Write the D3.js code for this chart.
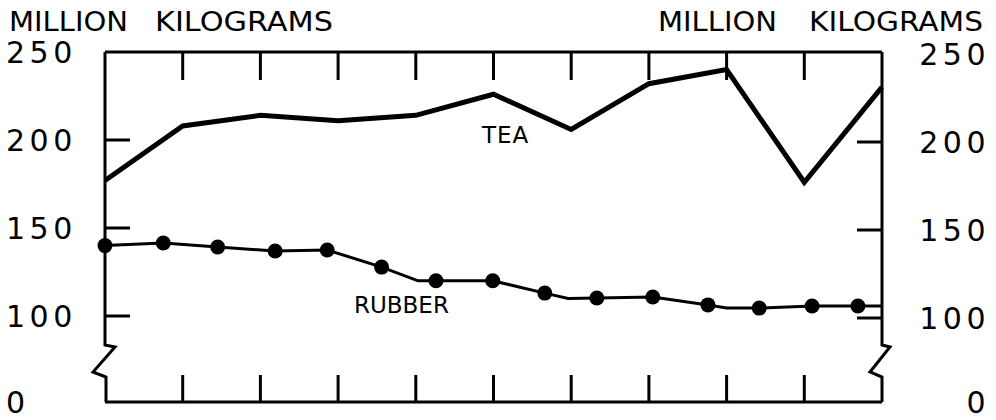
<!DOCTYPE html>
<html>
<head>
<meta charset="utf-8">
<script src="https://cdn.jsdelivr.net/npm/d3@7"></script>
<style>
  body { margin: 0; background: #fff; }
  text { font-family: "DejaVu Sans", sans-serif; fill: #000; }
</style>
</head>
<body>
<div id="chart"></div>
<script>
let height = 420,
    width = 996,
    margin = ({ top: 52, right: 114, bottom: 18, left: 105 });

// x in years from start (ticks every year), y in million kilograms
const years = [0, 1, 2, 3, 4, 5, 6, 7, 8, 9, 10];
const teaValues = [177, 208, 214, 211, 214, 226, 206, 232, 240, 176, 230];

const rubberX = [0, 0.75, 1.45, 2.19, 2.86, 3.56, 4.03, 4.26, 4.99, 5.66, 5.96, 6.33, 7.05, 7.76, 8.0, 8.42, 9.1, 9.69, 10];
const rubberV = [140, 141.5, 139.2, 136.9, 137.5, 127.8, 120, 120, 120, 113, 110, 110.2, 110.8, 106.3, 104.5, 104.5, 105.7, 105.7, 105.7];
const dotX = [0, 0.75, 1.45, 2.19, 2.86, 3.56, 4.26, 4.99, 5.66, 6.33, 7.05, 7.76, 8.42, 9.1, 9.69];
const dotV = [140, 141.5, 139.2, 136.9, 137.5, 127.8, 120, 120, 113, 110.2, 110.8, 106.3, 104.5, 105.7, 105.7];

const yTicks = [0, 100, 150, 200, 250];
const innerYTicks = [100, 150, 200];

const svg = d3.select("#chart")
    .append("svg")
    .attr("width", width)
    .attr("height", height);

let x = d3.scaleLinear()
    .domain([0, 10])
    .range([margin.left, width - margin.right]);

// broken scale: 0 sits at the bottom, 100..250 is linear above the break
let y = d3.scaleLinear()
    .domain([0, 100, 250])
    .range([height - margin.bottom, 316, margin.top]);

const x0 = x(0), x1 = x(10), yTop = y(250), yBot = y(0);
const b1 = y(100) + 29, b2 = y(100) + 56, b3 = y(100) + 61;

// frame with axis breaks
const frame = svg.append("g")
    .attr("fill", "none")
    .attr("stroke", "black")
    .attr("stroke-width", 3)
    .attr("stroke-linejoin", "miter");

frame.append("path")
    .attr("d", `M${x0},${yTop}H${x1}`);
frame.append("path")
    .attr("d", `M${x0},${yBot}H${x1}`);
frame.append("path")
    .attr("d", `M${x0},${yTop}V${b1}L${x0 + 10},${b1 + 2}L${x0 - 12},${b2}L${x0 + 1},${b3}V${yBot}`);
frame.append("path")
    .attr("d", `M${x1},${yTop}V${b1}L${x1 + 8},${b1 + 2}L${x1 - 12},${b2}L${x1},${b3}V${yBot}`);

// ticks
const inner = years.slice(1, -1);
frame.selectAll(".xt-top")
  .data(inner)
  .join("line")
    .attr("x1", d => x(d)).attr("x2", d => x(d))
    .attr("y1", yTop).attr("y2", yTop + 28);
frame.selectAll(".xt-bot")
  .data(inner)
  .join("line")
    .attr("x1", d => x(d)).attr("x2", d => x(d))
    .attr("y1", yBot).attr("y2", yBot - 27);
frame.selectAll(".yt-left")
  .data(innerYTicks)
  .join("line")
    .attr("x1", x0).attr("x2", x0 + 25)
    .attr("y1", d => y(d)).attr("y2", d => y(d));
frame.selectAll(".yt-right")
  .data(innerYTicks)
  .join("line")
    .attr("x1", x1).attr("x2", x1 - 25)
    .attr("y1", d => y(d) + 2).attr("y2", d => y(d) + 2);

// tick labels
svg.append("g")
    .attr("font-size", 30)
    .attr("letter-spacing", 4.5)
  .selectAll("text")
  .data(yTicks)
  .join("text")
    .attr("x", 6)
    .attr("y", d => d === 0 ? 413 : y(d) + 11)
    .text(d => d);

svg.append("g")
    .attr("font-size", 30)
    .attr("letter-spacing", 4.5)
    .attr("text-anchor", "end")
  .selectAll("text")
  .data(yTicks)
  .join("text")
    .attr("x", 990)
    .attr("y", d => d === 0 ? 413 : y(d) + 13)
    .text(d => d);

// unit titles
const titles = [
  { t: "MILLION", x: 9, len: 119 },
  { t: "KILOGRAMS", x: 155, len: 178 },
  { t: "MILLION", x: 658, len: 119 },
  { t: "KILOGRAMS", x: 809, len: 174 }
];
svg.append("g")
    .attr("font-size", 27)
  .selectAll("text")
  .data(titles)
  .join("text")
    .attr("x", d => d.x)
    .attr("y", 31)
    .attr("textLength", d => d.len)
    .attr("lengthAdjust", "spacingAndGlyphs")
    .text(d => d.t);

// tea line
svg.append("path")
    .datum(years)
    .attr("fill", "none")
    .attr("stroke", "black")
    .attr("stroke-width", 5)
    .attr("stroke-linejoin", "miter")
    .attr("d", d3.line().x(d => x(d)).y((d, i) => y(teaValues[i])));

// rubber line and dots
svg.append("path")
    .datum(rubberX)
    .attr("fill", "none")
    .attr("stroke", "black")
    .attr("stroke-width", 3)
    .attr("d", d3.line().x(d => x(d)).y((d, i) => y(rubberV[i])));

svg.append("g")
    .attr("fill", "black")
  .selectAll("circle")
  .data(dotX)
  .join("circle")
    .attr("cx", d => x(d))
    .attr("cy", (d, i) => y(dotV[i]))
    .attr("r", 7.5);

// series labels
svg.append("text")
    .attr("x", 482).attr("y", 143)
    .attr("font-size", 23)
    .attr("letter-spacing", 1)
    .text("TEA");
svg.append("text")
    .attr("x", 354).attr("y", 313)
    .attr("font-size", 23)
    .attr("letter-spacing", 0)
    .text("RUBBER");
</script>
</body>
</html>
